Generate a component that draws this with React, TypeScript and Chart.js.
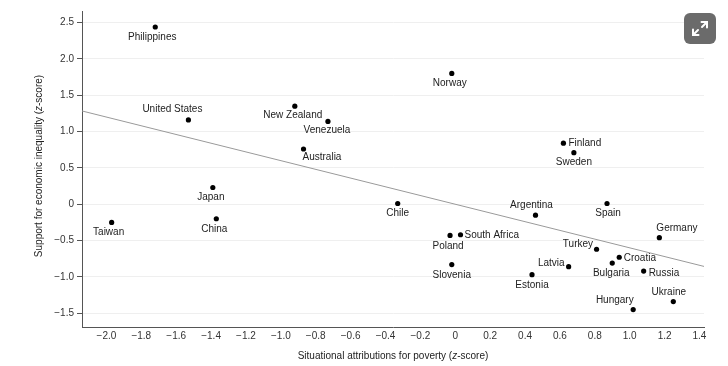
import React, { useEffect, useRef } from 'react';
import { Chart, registerables } from 'chart.js';

Chart.register(...registerables);

const countries = [
  'Philippines', 'United States', 'New Zealand', 'Venezuela', 'Australia', 'Norway',
  'Finland', 'Sweden', 'Japan', 'China', 'Taiwan', 'Chile', 'Argentina', 'Spain',
  'Germany', 'Poland', 'South Africa', 'Turkey', 'Croatia', 'Bulgaria', 'Russia',
  'Latvia', 'Slovenia', 'Estonia', 'Ukraine', 'Hungary',
];
const attributions = [
  -1.72, -1.53, -0.92, -0.73, -0.87, -0.02,
  0.62, 0.68, -1.39, -1.37, -1.97, -0.33, 0.46, 0.87,
  1.17, -0.03, 0.03, 0.81, 0.94, 0.90, 1.08,
  0.65, -0.02, 0.44, 1.25, 1.02,
];
const support = [
  2.44, 1.16, 1.35, 1.14, 0.76, 1.80,
  0.84, 0.71, 0.23, -0.20, -0.25, 0.01, -0.15, 0.01,
  -0.46, -0.43, -0.42, -0.62, -0.73, -0.81, -0.92,
  -0.86, -0.83, -0.97, -1.34, -1.45,
];
const trendX = [-2.14, 1.426];
const trendY = [1.284, -0.856];

const xTitleParts: [string, boolean][] = [
  ['Situational attributions for poverty (', false],
  ['z', true],
  ['-score)', false],
];
const yTitleParts: [string, boolean][] = [
  ['Support for economic inequality (', false],
  ['z', true],
  ['-score)', false],
];

// label placement relative to the dot: [dx, dy, align]
const labelPlacement: Record<string, [number, number, CanvasTextAlign]> = {
  'Philippines': [-3, 10, 'center'],
  'United States': [-16, -11, 'center'],
  'New Zealand': [-2, 9, 'center'],
  'Venezuela': [-1, 9, 'center'],
  'Australia': [-1, 8, 'left'],
  'Norway': [-2, 9.5, 'center'],
  'Finland': [5, 0.5, 'left'],
  'Sweden': [0, 10, 'center'],
  'Japan': [-2, 10, 'center'],
  'China': [-2, 10, 'center'],
  'Taiwan': [-3, 10, 'center'],
  'Chile': [0, 9.5, 'center'],
  'Argentina': [-4, -9.5, 'center'],
  'Spain': [1, 9.5, 'center'],
  'Germany': [-3, -9.5, 'left'],
  'Poland': [-2, 10.5, 'center'],
  'South Africa': [4, 1, 'left'],
  'Turkey': [-3.5, -5.5, 'right'],
  'Croatia': [4.5, 0.7, 'left'],
  'Bulgaria': [-1, 10.5, 'center'],
  'Russia': [5, 2.5, 'left'],
  'Latvia': [-4, -3.7, 'right'],
  'Slovenia': [0, 10.5, 'center'],
  'Estonia': [0, 10.5, 'center'],
  'Ukraine': [-4.5, -9, 'center'],
  'Hungary': [0.5, -9.5, 'right'],
};

const FONT = '"Liberation Sans", Arial, Helvetica, sans-serif';

function fmt(v: number): string {
  if (Math.abs(v) < 1e-9) return '0';
  return v.toFixed(1).replace('-', '\u2212');
}

function drawParts(ctx: CanvasRenderingContext2D, parts: [string, boolean][], cx: number, cy: number) {
  let total = 0;
  const widths: number[] = [];
  for (const [t, it] of parts) {
    ctx.font = `${it ? 'italic ' : ''}10px ${FONT}`;
    const w = ctx.measureText(t).width;
    widths.push(w);
    total += w;
  }
  let x = cx - total / 2;
  parts.forEach(([t, it], i) => {
    ctx.font = `${it ? 'italic ' : ''}10px ${FONT}`;
    ctx.fillText(t, x, cy);
    x += widths[i];
  });
}

const labelsPlugin = {
  id: 'pointLabels',
  afterDatasetsDraw(chart: any) {
    const ctx: CanvasRenderingContext2D = chart.ctx;
    const meta = chart.getDatasetMeta(0);
    ctx.save();
    ctx.fillStyle = '#222';
    ctx.font = `10px ${FONT}`;
    ctx.textBaseline = 'middle';
    meta.data.forEach((el: any, i: number) => {
      const name = countries[i];
      const p = labelPlacement[name] || [0, 10, 'center'];
      ctx.textAlign = p[2];
      ctx.fillText(name, el.x + p[0], el.y + p[1]);
    });
    ctx.restore();
  },
  afterDraw(chart: any) {
    const ctx: CanvasRenderingContext2D = chart.ctx;
    const area = chart.chartArea;
    ctx.save();
    ctx.fillStyle = '#222';
    ctx.textBaseline = 'middle';
    ctx.textAlign = 'left';
    drawParts(ctx, xTitleParts, (area.left + area.right) / 2, 356);
    ctx.translate(39, (area.top + area.bottom) / 2 - 3);
    ctx.rotate(-Math.PI / 2);
    drawParts(ctx, yTitleParts, 0, 0);
    ctx.restore();
  },
};

export default function App() {
  const ref = useRef<HTMLCanvasElement>(null);

  useEffect(() => {
    document.body.style.margin = '0';
    Chart.defaults.font.family = FONT;
    Chart.defaults.font.size = 10;
    Chart.defaults.color = '#333';
    const points = attributions.map((x, i) => ({ x, y: support[i] }));
    const trend = trendX.map((x, i) => ({ x, y: trendY[i] }));
    const chart = new Chart(ref.current as HTMLCanvasElement, {
      type: 'scatter',
      data: {
        datasets: [
          {
            data: points,
            backgroundColor: '#000',
            borderWidth: 0,
            pointRadius: 2.6,
            order: 1,
          } as any,
          {
            type: 'line',
            data: trend,
            borderColor: '#9a9a9a',
            borderWidth: 1,
            pointRadius: 0,
            fill: false,
            order: 2,
          } as any,
        ],
      },
      options: {
        animation: false,
        responsive: false,
        layout: { padding: { top: 11, right: 24, left: 0, bottom: 0 } },
        plugins: { legend: { display: false }, tooltip: { enabled: false } },
        scales: {
          x: {
            type: 'linear',
            min: -2.14,
            max: 1.426,
            afterFit: (s: any) => { s.height = 39; },
            grid: { display: false, drawTicks: false },
            border: { display: true, color: '#555', width: 1 },
            ticks: {
              stepSize: 0.2,
              includeBounds: false,
              padding: 3,
              color: '#333',
              maxRotation: 0,
              autoSkip: false,
              callback: (v: any) => fmt(Number(v)),
            },
          },
          y: {
            type: 'linear',
            min: -1.69,
            max: 2.66,
            afterFit: (s: any) => { s.width = 82; },
            grid: { color: '#efefef', lineWidth: 1, drawTicks: true, tickLength: 5, tickColor: '#555' },
            border: { display: true, color: '#555', width: 1 },
            ticks: {
              stepSize: 0.5,
              includeBounds: false,
              padding: 3,
              color: '#333',
              autoSkip: false,
              callback: (v: any) => fmt(Number(v)),
            },
          },
        },
      },
      plugins: [labelsPlugin],
    } as any);
    return () => chart.destroy();
  }, []);

  return (
    <div style={{ position: 'relative', width: 728, height: 366, background: '#fff' }}>
      <canvas ref={ref} width={728} height={366} style={{ display: 'block', width: 728, height: 366 }} />
      <div
        style={{
          position: 'absolute',
          left: 684,
          top: 13,
          width: 32,
          height: 31,
          borderRadius: 6,
          background: '#6b6b6b',
        }}
      >
        <svg width="32" height="31" viewBox="0 0 32 31">
          <g stroke="#fff" strokeWidth="2" fill="none" strokeLinecap="round">
            <line x1="9" y1="22" x2="14" y2="17" />
            <polyline points="9,16.5 9,22 14.5,22" />
            <line x1="23" y1="9" x2="18" y2="14" />
            <polyline points="17.5,9 23,9 23,14.5" />
          </g>
        </svg>
      </div>
    </div>
  );
}
